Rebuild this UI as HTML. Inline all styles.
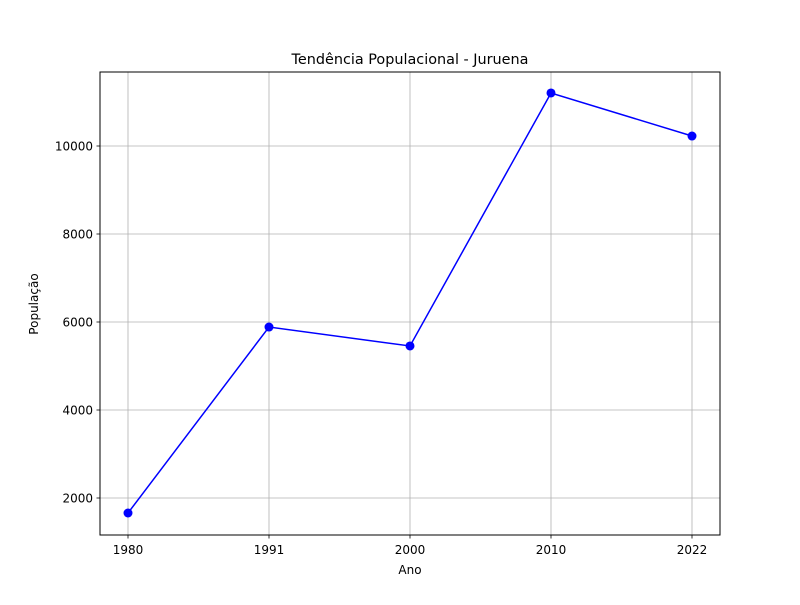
<!DOCTYPE html>
<html><head><meta charset="utf-8"><style>
body{margin:0;background:#fff;}
svg text{font-family:"DejaVu Sans","Liberation Sans",sans-serif;fill:#000;}
</style></head><body>
<svg id="chart" width="800" height="600" xmlns="http://www.w3.org/2000/svg">
<rect width="800" height="600" fill="#fff"/>
<g id="grid"></g>
<g id="ticks"></g>
<g id="series"></g>
<rect x="100" y="72" width="620" height="463" fill="none" stroke="#000" stroke-width="1"/>
<text x="410" y="64" font-size="14.4" text-anchor="middle">Tendência Populacional - Juruena</text>
<text x="410" y="574" font-size="12" text-anchor="middle">Ano</text>
<text x="38" y="304" font-size="12" text-anchor="middle" transform="rotate(-90 38 304)">População</text>
</svg>
<script>
const categories=["1980","1991","2000","2010","2022"];
const population=[1659,5886,5455,11205,10227];
const yTicks=[2000,4000,6000,8000,10000];
const NS="http://www.w3.org/2000/svg";
function x(i){return 128+i*141;}
function y(v){return 498-(v-2000)*0.044;}
function mk(t,a,p){const e=document.createElementNS(NS,t);for(const k in a)e.setAttribute(k,a[k]);p.appendChild(e);return e;}
const grid=document.getElementById('grid'),ticks=document.getElementById('ticks'),ser=document.getElementById('series');
categories.forEach((c,i)=>{
 const g=mk('line',{x1:x(i),x2:x(i),y1:72,y2:535,stroke:'#b0b0b0','stroke-width':0.8},grid);
 
 
 mk('line',{x1:x(i),x2:x(i),y1:535,y2:538.5,stroke:'#000','stroke-width':0.8},ticks);
 const t=mk('text',{x:x(i),y:554,'font-size':12,'text-anchor':'middle'},ticks);t.textContent=c;
 
 
});
yTicks.forEach(v=>{
 const g=mk('line',{x1:100,x2:720,y1:y(v),y2:y(v),stroke:'#b0b0b0','stroke-width':0.8},grid);
 
 
 mk('line',{x1:96.5,x2:100,y1:y(v),y2:y(v),stroke:'#000','stroke-width':0.8},ticks);
 const t=mk('text',{x:93,y:y(v)+4.5,'font-size':12,'text-anchor':'end'},ticks);t.textContent=v;
 
 
});
const pl=mk('polyline',{points:population.map((v,i)=>x(i)+','+y(v)).join(' '),fill:'none',stroke:'#0000ff','stroke-width':1.5},ser);


population.forEach((v,i)=>{
 const c=mk('circle',{cx:x(i),cy:y(v),r:4.5,fill:'#0000ff'},ser);
 
 
});
</script>
</body></html>
